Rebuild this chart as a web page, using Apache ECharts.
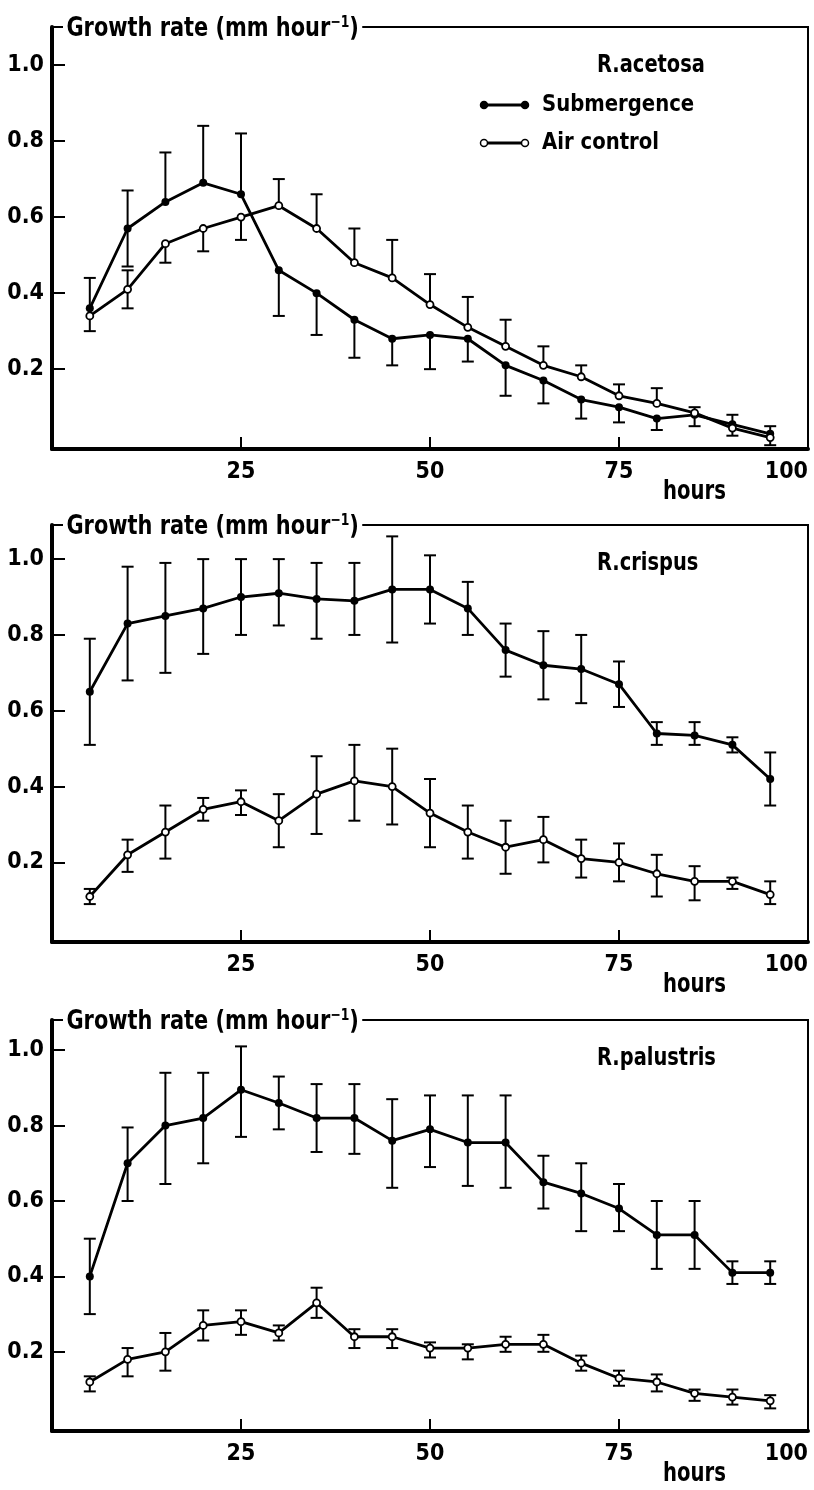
<!DOCTYPE html>
<html>
<head>
    <meta charset="utf-8">
    <title>Growth rate</title>
    <script src="https://cdn.jsdelivr.net/npm/echarts@6/dist/echarts.min.js"></script>
    <style>
        html, body { margin: 0; padding: 0; background: #fff; }
    </style>
</head>
<body>
<div id="main" style="width: 814px;height:1490px;"></div>
<script type="text/javascript">
    var hours = [5, 10, 15, 20, 25, 30, 35, 40, 45, 50, 55, 60, 65, 70, 75, 80, 85, 90, 95];
    var yTicks = [0.2, 0.4, 0.6, 0.8, 1.0];
    var xTicks = [25, 50, 75];
    var xLabels = [25, 50, 75, 100];

    // R.acetosa
    var acetosaSub   = [0.36, 0.57, 0.64, 0.69, 0.66, 0.46, 0.40, 0.33, 0.28, 0.29, 0.28, 0.21, 0.17, 0.12, 0.10, 0.07, 0.08, 0.055, 0.03];
    var acetosaSubHi = [0.44, 0.67, 0.77, 0.84, 0.82, 0.46, 0.40, 0.33, 0.28, 0.29, 0.28, 0.21, 0.17, 0.12, 0.10, 0.07, 0.08, 0.08, 0.03];
    var acetosaSubLo = [0.36, 0.47, 0.64, 0.69, 0.66, 0.34, 0.29, 0.23, 0.21, 0.20, 0.22, 0.13, 0.11, 0.07, 0.06, 0.04, 0.05, 0.025, 0.03];
    var acetosaAir   = [0.34, 0.41, 0.53, 0.57, 0.60, 0.63, 0.57, 0.48, 0.44, 0.37, 0.31, 0.26, 0.21, 0.18, 0.13, 0.11, 0.085, 0.045, 0.02];
    var acetosaAirHi = [0.34, 0.46, 0.53, 0.57, 0.60, 0.70, 0.66, 0.57, 0.54, 0.45, 0.39, 0.33, 0.26, 0.21, 0.16, 0.15, 0.10, 0.045, 0.05];
    var acetosaAirLo = [0.30, 0.36, 0.48, 0.51, 0.54, 0.63, 0.57, 0.48, 0.44, 0.37, 0.31, 0.26, 0.21, 0.18, 0.13, 0.11, 0.085, 0.045, 0.00];

    // R.crispus
    var crispusSub   = [0.65, 0.83, 0.85, 0.87, 0.90, 0.91, 0.895, 0.89, 0.92, 0.92, 0.87, 0.76, 0.72, 0.71, 0.67, 0.54, 0.535, 0.51, 0.42];
    var crispusSubHi = [0.79, 0.98, 0.99, 1.00, 1.00, 1.00, 0.99, 0.99, 1.06, 1.01, 0.94, 0.83, 0.81, 0.80, 0.73, 0.57, 0.57, 0.53, 0.49];
    var crispusSubLo = [0.51, 0.68, 0.70, 0.75, 0.80, 0.825, 0.79, 0.80, 0.78, 0.83, 0.80, 0.69, 0.63, 0.62, 0.61, 0.51, 0.51, 0.49, 0.35];
    var crispusAir   = [0.11, 0.22, 0.28, 0.34, 0.36, 0.31, 0.38, 0.415, 0.40, 0.33, 0.28, 0.24, 0.26, 0.21, 0.20, 0.17, 0.15, 0.15, 0.115];
    var crispusAirHi = [0.13, 0.26, 0.35, 0.37, 0.39, 0.38, 0.48, 0.51, 0.50, 0.42, 0.35, 0.31, 0.32, 0.26, 0.25, 0.22, 0.19, 0.16, 0.15];
    var crispusAirLo = [0.09, 0.175, 0.21, 0.31, 0.325, 0.24, 0.275, 0.31, 0.30, 0.24, 0.21, 0.17, 0.20, 0.16, 0.15, 0.11, 0.10, 0.13, 0.09];

    // R.palustris
    var palustrisSub   = [0.40, 0.70, 0.80, 0.82, 0.895, 0.86, 0.82, 0.82, 0.76, 0.79, 0.755, 0.755, 0.65, 0.62, 0.58, 0.51, 0.51, 0.41, 0.41];
    var palustrisSubHi = [0.50, 0.795, 0.94, 0.94, 1.01, 0.93, 0.91, 0.91, 0.87, 0.88, 0.88, 0.88, 0.72, 0.70, 0.645, 0.60, 0.60, 0.44, 0.44];
    var palustrisSubLo = [0.30, 0.60, 0.645, 0.70, 0.77, 0.79, 0.73, 0.725, 0.635, 0.69, 0.64, 0.635, 0.58, 0.52, 0.52, 0.42, 0.42, 0.38, 0.38];
    var palustrisAir   = [0.12, 0.18, 0.20, 0.27, 0.28, 0.25, 0.33, 0.24, 0.24, 0.21, 0.21, 0.22, 0.22, 0.17, 0.13, 0.12, 0.09, 0.08, 0.07];
    var palustrisAirHi = [0.135, 0.21, 0.25, 0.31, 0.31, 0.27, 0.37, 0.26, 0.26, 0.225, 0.22, 0.24, 0.245, 0.19, 0.15, 0.14, 0.10, 0.10, 0.085];
    var palustrisAirLo = [0.095, 0.135, 0.15, 0.23, 0.245, 0.23, 0.29, 0.21, 0.21, 0.185, 0.18, 0.20, 0.20, 0.15, 0.11, 0.095, 0.07, 0.06, 0.05];

    var panels = [
        {name: 'R.acetosa', sub: acetosaSub, subHi: acetosaSubHi, subLo: acetosaSubLo,
            air: acetosaAir, airHi: acetosaAirHi, airLo: acetosaAirLo},
        {name: 'R.crispus', sub: crispusSub, subHi: crispusSubHi, subLo: crispusSubLo,
            air: crispusAir, airHi: crispusAirHi, airLo: crispusAirLo},
        {name: 'R.palustris', sub: palustrisSub, subHi: palustrisSubHi, subLo: palustrisSubLo,
            air: palustrisAir, airHi: palustrisAirHi, airLo: palustrisAirLo}
    ];

    // layout of the three stacked plots
    var gridTop = [27, 525, 1020];
    var gridHeight = [422, 417, 411];
    var yMax = [1.1, 1.09, 1.08];
    var FONT = '"DejaVu Sans Condensed", "Liberation Sans Narrow", sans-serif';

    function pairs(ys) {
        return hours.map(function (h, i) { return [h, ys[i]]; });
    }

    function errData(v, lo, hi) {
        return hours.map(function (h, i) { return [h, lo[i], hi[i], v[i]]; });
    }

    function renderError(params, api) {
        var x = api.value(0);
        var v = api.value(3);
        var lo = api.coord([x, api.value(1)]);
        var hi = api.coord([x, api.value(2)]);
        var w = 6;
        var st = {stroke: '#000', lineWidth: 2};
        var kids = [{type: 'line', shape: {x1: lo[0], y1: lo[1], x2: hi[0], y2: hi[1]}, style: st}];
        if (api.value(2) > v + 0.001) {
            kids.push({type: 'line', shape: {x1: hi[0] - w, y1: hi[1], x2: hi[0] + w, y2: hi[1]}, style: st});
        }
        if (api.value(1) < v - 0.001) {
            kids.push({type: 'line', shape: {x1: lo[0] - w, y1: lo[1], x2: lo[0] + w, y2: lo[1]}, style: st});
        }
        return {type: 'group', children: kids};
    }

    // narrow, tall lettering like the printed figure
    function label(text, x, y, size, sx, extra) {
        var st = {text: text, font: 'bold ' + size + 'px ' + FONT, fill: '#000', verticalAlign: 'middle'};
        for (var key in (extra || {})) st[key] = extra[key];
        return {type: 'text', x: x, y: y, scaleX: sx, z: 10, style: st};
    }

    var grid = [], xAxis = [], yAxis = [], series = [], graphic = [];

    panels.forEach(function (p, k) {
        grid.push({
            left: 52, right: 6, top: gridTop[k], height: gridHeight[k],
            show: true, borderColor: '#000', borderWidth: 2
        });
        xAxis.push({
            type: 'value', gridIndex: k, min: 0, max: 100,
            splitLine: {show: false},
            axisLine: {onZero: false, lineStyle: {color: '#000', width: 4}},
            axisTick: {inside: true, length: 12, customValues: xTicks, lineStyle: {color: '#000', width: 2}},
            axisLabel: {
                customValues: xLabels, margin: 12, color: '#000',
                fontFamily: FONT, fontWeight: 'bold', fontSize: 23,
                alignMaxLabel: 'right'
            }
        });
        yAxis.push({
            type: 'value', gridIndex: k, min: -0.01, max: yMax[k],
            splitLine: {show: false},
            axisLine: {onZero: false, lineStyle: {color: '#000', width: 4}},
            axisTick: {inside: true, length: 13, customValues: yTicks, lineStyle: {color: '#000', width: 2}},
            axisLabel: {
                customValues: yTicks, margin: 8, color: '#000',
                fontFamily: FONT, fontWeight: 'bold', fontSize: 23,
                formatter: function (v) { return v.toFixed(1); }
            }
        });

        series.push({
            type: 'custom', xAxisIndex: k, yAxisIndex: k, z: 2,
            renderItem: renderError, data: errData(p.sub, p.subLo, p.subHi)
        });
        series.push({
            type: 'custom', xAxisIndex: k, yAxisIndex: k, z: 2,
            renderItem: renderError, data: errData(p.air, p.airLo, p.airHi)
        });
        series.push({
            name: 'Submergence', type: 'line', xAxisIndex: k, yAxisIndex: k, z: 3,
            data: pairs(p.sub), symbol: 'circle', symbolSize: 8,
            lineStyle: {color: '#000', width: 2.8},
            itemStyle: {color: '#000'}
        });
        series.push({
            name: 'Air control', type: 'line', xAxisIndex: k, yAxisIndex: k, z: 3,
            data: pairs(p.air), symbol: 'circle', symbolSize: 7,
            lineStyle: {color: '#000', width: 2.8},
            itemStyle: {color: '#fff', borderColor: '#000', borderWidth: 1.8}
        });

        var top = gridTop[k];
        var bottom = top + gridHeight[k];
        // y axis title breaking the top frame line
        graphic.push(label('Growth rate (mm hour{s|−1})', 63, top + 2, 27, 0.86, {
            backgroundColor: '#fff', padding: [0, 4, 0, 4],
            rich: {s: {font: 'bold 16px ' + FONT, verticalAlign: 'top', padding: [0, 0, 12, 0]}}
        }));
        graphic.push(label(p.name, 597, top + 39, 24, 0.9));
        graphic.push(label('hours', 663, bottom + 43, 26, 0.84));
    });

    // legend of the first plot
    var legendRows = [
        {label: 'Submergence', y: 105, fill: '#000'},
        {label: 'Air control', y: 143, fill: '#fff'}
    ];
    legendRows.forEach(function (r) {
        graphic.push({type: 'line', shape: {x1: 484, y1: r.y, x2: 525, y2: r.y}, style: {stroke: '#000', lineWidth: 2.8}, z: 10});
        graphic.push({type: 'circle', shape: {cx: 484, cy: r.y, r: 3.5}, style: {fill: r.fill, stroke: '#000', lineWidth: 1.5}, z: 11});
        graphic.push({type: 'circle', shape: {cx: 525, cy: r.y, r: 3.5}, style: {fill: r.fill, stroke: '#000', lineWidth: 1.5}, z: 11});
        graphic.push(label(r.label, 542, r.y, 23, 0.95));
    });

    var myChart = echarts.init(document.getElementById('main'));
    var option = {
        backgroundColor: '#fff',
        animation: false,
        grid: grid,
        xAxis: xAxis,
        yAxis: yAxis,
        series: series,
        graphic: graphic
    };
    myChart.setOption(option);
</script>
</body>
</html>
